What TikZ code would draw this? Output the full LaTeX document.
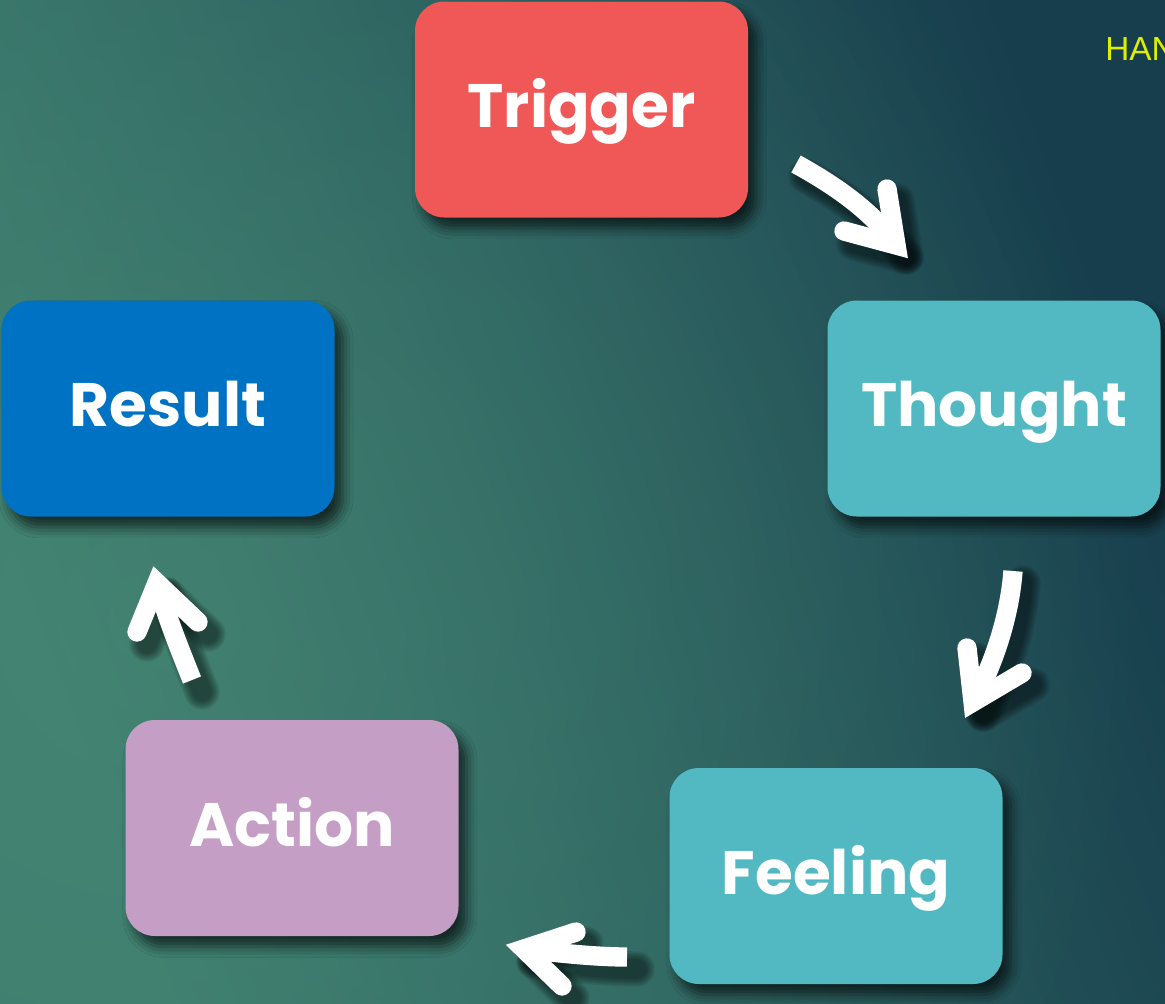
\documentclass[tikz,border=0pt]{standalone}
\usepackage{fontspec}
\newfontfamily\labelfont{Poppins}
\newfontfamily\tagfont{Liberation Sans}
\usetikzlibrary{shadows.blur,fadings}

% palette
\definecolor{bglight}{HTML}{3C7C6E}
\definecolor{bgmid}{HTML}{2C6463}
\definecolor{bgdark}{HTML}{173E4D}
\definecolor{glowcol}{HTML}{4A8B76}
\definecolor{trigcol}{HTML}{F05757}
\definecolor{tealcol}{HTML}{52B9C3}
\definecolor{resultcol}{HTML}{0072C3}
\definecolor{actioncol}{HTML}{C49EC4}
\definecolor{tagcol}{HTML}{DDEE00}

\tikzfading[name=glowfade, inner color=transparent!45, outer color=transparent!100]

\tikzset{
  box/.style={rectangle, rounded corners=22pt, inner sep=0pt,
    minimum width=249.75pt, minimum height=162pt,
    text=white, font=\labelfont\bfseries\fontsize{46}{46}\selectfont,
    text height=27pt, text depth=0pt,
    blur shadow={shadow xshift=6pt, shadow yshift=-8pt,
      shadow blur radius=8pt, shadow opacity=65}},
  shaftstroke/.style={draw=white, line width=14.5pt, line cap=butt},
  headstroke/.style={draw=white, line width=14.5pt, line cap=round, line join=miter},
  shadowstroke/.style={draw=black, opacity=0.09, line cap=round, line join=round},
  shadowoff/.style={xshift=7.5pt, yshift=-9pt},
}

% curved white arrow: start, control 1, control 2, head vertex, arm end, arm end
\newcommand\cyclearrow[6]{%
  \foreach \k in {0,...,5}{%
    \draw[shadowstroke, line width=14.5pt+\k*2.4pt]
      ([shadowoff]#1) .. controls ([shadowoff]#2) and ([shadowoff]#3) .. ([shadowoff]#4);
    \draw[shadowstroke, line width=14.5pt+\k*2.4pt]
      ([shadowoff]#5) -- ([shadowoff]#4) -- ([shadowoff]#6);
  }
  \draw[shaftstroke] (#1) .. controls (#2) and (#3) .. (#4);
  \draw[headstroke] (#5) -- (#4) -- (#6);
}

\begin{document}
\begin{tikzpicture}[x=0.75pt, y=-0.75pt]
  \useasboundingbox (0,0) rectangle (1165,1004);

  % backdrop: light teal at the lower left, deep teal at the upper right
  \begin{scope}
    \clip (0,0) rectangle (1165,1004);
    \shade[bottom color=bglight, middle color=bgmid, top color=bgdark,
           shading angle=-70] (0,0) rectangle (1165,1004);
    \fill[glowcol, path fading=glowfade] (150,620) circle (1000);
  \end{scope}

  % corner tag
  \node[anchor=base west, inner sep=0pt, text=tagcol,
        font=\tagfont\fontsize{25}{25}\selectfont] (tag) at (1105,60) {HAN};

  % stages of the cycle
  \node[box, fill=trigcol]   (trigger) at (581.5,109.5) {Trigger};
  \node[box, fill=tealcol]   (thought) at (994,408.5)   {Thought};
  \node[box, fill=tealcol]   (feeling) at (836,876)     {Feeling};
  \node[box, fill=actioncol] (action)  at (292,828)     {Action};
  \node[box, fill=resultcol] (result)  at (168,408.5)   {Result};

  % arrow geometry
  \coordinate (a1s) at (796,164);  \coordinate (a1p) at (836,186);
  \coordinate (a1q) at (873,212);  \coordinate (a1v) at (896,245);
  \coordinate (a1l) at (887,189);  \coordinate (a1r) at (844,231);

  \coordinate (a2s) at (1013,571); \coordinate (a2p) at (1010,612);
  \coordinate (a2q) at (996,660);  \coordinate (a2v) at (973,702);
  \coordinate (a2l) at (967,648);  \coordinate (a2r) at (1022,673);

  \coordinate (a3s) at (627,957);  \coordinate (a3p) at (596,957);
  \coordinate (a3q) at (558,953);  \coordinate (a3v) at (524,949);
  \coordinate (a3l) at (576,932);  \coordinate (a3r) at (562,986);

  \coordinate (a4s) at (192,680);  \coordinate (a4p) at (180,650);
  \coordinate (a4q) at (166,615);  \coordinate (a4v) at (157,583);
  \coordinate (a4l) at (137,632);  \coordinate (a4r) at (198,622);

  \cyclearrow{a1s}{a1p}{a1q}{a1v}{a1l}{a1r}
  \cyclearrow{a2s}{a2p}{a2q}{a2v}{a2l}{a2r}
  \cyclearrow{a3s}{a3p}{a3q}{a3v}{a3l}{a3r}
  \cyclearrow{a4s}{a4p}{a4q}{a4v}{a4l}{a4r}
\end{tikzpicture}
\end{document}
